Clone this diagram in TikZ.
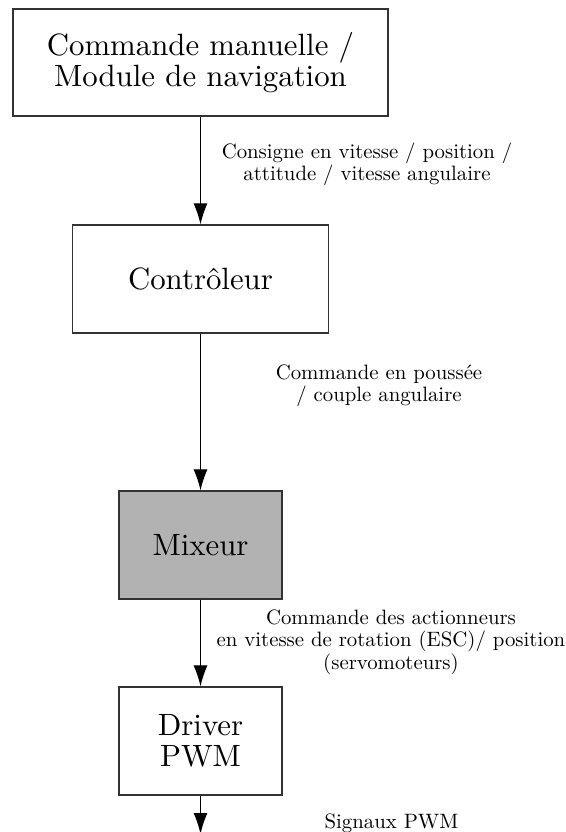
\documentclass[tikz,border=0pt]{standalone}
\usepackage{fontspec}
\setmainfont{lmroman10-regular.otf}
\usetikzlibrary{arrows.meta, positioning}

\tikzset{
  block/.style={draw=black!80, line width=0.6pt, align=center, font=\fontsize{15.4}{15.5}\selectfont, inner sep=2pt},
  flowlabel/.style={align=center, font=\fontsize{10.4}{11.2}\selectfont},
  flow/.style={-{Latex[length=10.5pt, width=7pt]}, line width=0.55pt},
}

\begin{document}
\begin{tikzpicture}[x=0.5pt, y=-0.5pt]
				\useasboundingbox (0,0) rectangle (566,832);

				% Blocks
				\node[block, minimum width=187.5pt, minimum height=53.5pt] (cmd) at (200.5,62.5) {Commande manuelle /\\Module de navigation};
				\node[block, minimum width=128pt, minimum height=54pt] (ctrl) at (200.5,279) {Contrôleur};
				\node[block, fill=black!30, minimum width=81.5pt, minimum height=54pt] (mix) at (200.5,545) {Mixeur};
				\node[block, minimum width=81.5pt, minimum height=54pt] (drv) at (200.5,741) {Driver\\PWM};
				\coordinate (out) at (200.5,834);

				% Connectors
				\draw[flow] (cmd) -- (ctrl);
				\draw[flow] (ctrl) -- (mix);
				\draw[flow] (mix) -- (drv);
				\draw[flow] (drv) -- (out);

				% Signal labels
				\node[flowlabel] (consigne) at (367,164) {Consigne en vitesse / position /\\attitude / vitesse angulaire};
				\node[flowlabel] (poussee) at (379,386) {Commande en poussée\\/ couple angulaire};
				\node[flowlabel] (actionneurs) at (391,642) {Commande des actionneurs\\en vitesse de rotation (ESC)/ position\\(servomoteurs)};
				\node[flowlabel] (pwm) at (391.5,823) {Signaux PWM};
			\end{tikzpicture}
\end{document}
